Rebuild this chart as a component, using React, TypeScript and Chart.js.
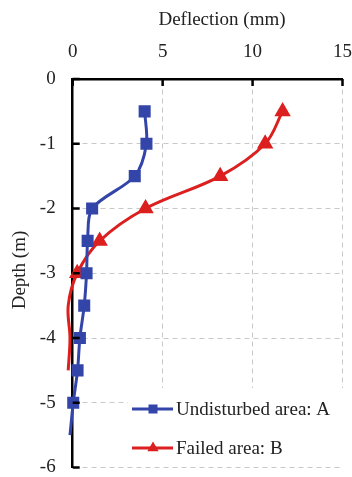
import React, { useEffect, useRef } from "react";
import { Chart, registerables } from "chart.js";

Chart.register(...registerables);

const depthA = [-0.5, -1, -1.5, -2, -2.5, -3, -3.5, -4, -4.5, -5, -5.5];
const deflA = [4.0, 4.1, 3.45, 1.08, 0.83, 0.77, 0.64, 0.4, 0.27, 0.03, -0.15];
const depthB = [-0.5, -1, -1.5, -2, -2.5, -3, -3.5, -4, -4.5];
const deflB = [11.67, 10.7, 8.2, 4.05, 1.5, 0.25, -0.25, -0.15, -0.25];
const xTicks = [0, 5, 10, 15];
const yTicks = [0, -1, -2, -3, -4, -5, -6];
const labelA = "Undisturbed area: A";
const labelB = "Failed area: B";
const xTitle = "Deflection (mm)";
const yTitle = "Depth (m)";

const BLUE = "#3345a8";
const RED = "#dc1f1f";
const FONT = "'Liberation Serif', 'Times New Roman', serif";
const TXT = "#222";

const overlay = {
  id: "overlay",
  afterDraw(chart: any) {
    const { ctx, chartArea, scales } = chart;
    const xs = scales.x;
    const ys = scales.y;
    ctx.save();
    // inward ticks
    ctx.strokeStyle = "#000";
    ctx.lineWidth = 2.5;
    ctx.beginPath();
    xTicks.forEach((v) => {
      const px = xs.getPixelForValue(v);
      ctx.moveTo(px, chartArea.top);
      ctx.lineTo(px, chartArea.top + 7);
    });
    yTicks.forEach((v) => {
      const py = ys.getPixelForValue(v);
      ctx.moveTo(chartArea.left, py);
      ctx.lineTo(chartArea.left + 7, py);
    });
    ctx.stroke();

    // titles
    ctx.fillStyle = TXT;
    ctx.font = `19px ${FONT}`;
    ctx.textAlign = "center";
    ctx.textBaseline = "middle";
    ctx.fillText(xTitle, 222, 20);
    ctx.save();
    ctx.translate(20, 270);
    ctx.rotate(-Math.PI / 2);
    ctx.fillText(yTitle, 0, 0);
    ctx.restore();

    // legend
    ctx.fillStyle = "#fff";
    ctx.fillRect(128, 388, 222, 76);
    const items = [
      { label: labelA, color: BLUE, style: "rect", y: 409 },
      { label: labelB, color: RED, style: "triangle", y: 448 },
    ];
    items.forEach((it) => {
      ctx.strokeStyle = it.color;
      ctx.lineWidth = 3;
      ctx.beginPath();
      ctx.moveTo(132, it.y);
      ctx.lineTo(173, it.y);
      ctx.stroke();
      ctx.fillStyle = it.color;
      if (it.style === "rect") {
        ctx.fillRect(153 - 4.5, it.y - 4.5, 9, 9);
      } else {
        const r = 6.5;
        ctx.beginPath();
        ctx.moveTo(153, it.y - r);
        ctx.lineTo(153 + r * 0.866, it.y + r * 0.5);
        ctx.lineTo(153 - r * 0.866, it.y + r * 0.5);
        ctx.closePath();
        ctx.fill();
      }
      ctx.fillStyle = TXT;
      ctx.textAlign = "left";
      ctx.font = `19px ${FONT}`;
      ctx.fillText(it.label, 176, it.y + 1);
    });
    ctx.restore();
  },
};

export default function App() {
  const ref = useRef<HTMLCanvasElement | null>(null);
  useEffect(() => {
    if (!ref.current) return;
    const chart = new Chart(ref.current, {
      type: "scatter",
      data: {
        datasets: [
          {
            label: labelA,
            data: depthA.map((d, i) => ({ x: deflA[i], y: d })),
            showLine: true,
            borderColor: BLUE,
            backgroundColor: BLUE,
            borderWidth: 3,
            pointStyle: "rect",
            pointRadius: depthA.map((d) => (d < -5.2 ? 0 : 6.4)),
            pointHoverRadius: 0,
            tension: 0.3,
            clip: 12,
          },
          {
            label: labelB,
            data: depthB.map((d, i) => ({ x: deflB[i], y: d })),
            showLine: true,
            borderColor: RED,
            backgroundColor: RED,
            borderWidth: 3,
            pointStyle: "triangle",
            pointRadius: depthB.map((d) => (d < -3.2 ? 0 : 6.5)),
            pointHoverRadius: 0,
            tension: 0.35,
            clip: 12,
          },
        ],
      },
      options: {
        animation: false,
        responsive: true,
        maintainAspectRatio: false,
        layout: { padding: { left: 0, top: 0, right: 9, bottom: 8 } },
        plugins: { legend: { display: false }, tooltip: { enabled: false } },
        scales: {
          x: {
            type: "linear",
            position: "top",
            min: 0,
            max: 15,
            afterFit: (s: any) => {
              s.height = 79;
              s.paddingLeft = 0;
              s.paddingRight = 0;
            },
            afterBuildTicks: (s: any) => {
              s.ticks = xTicks.map((v) => ({ value: v }));
            },
            ticks: {
              font: { family: FONT, size: 19 },
              color: TXT,
              padding: 16,
            },
            grid: {
              color: "#c8c8c8",
              lineWidth: 1,
              drawTicks: false,
            },
            border: { display: true, color: "#000", width: 2.5, dash: [5, 4] },
          },
          y: {
            type: "linear",
            min: -6,
            max: 0,
            afterFit: (s: any) => {
              s.width = 72.7;
              s.paddingTop = 0;
              s.paddingBottom = 0;
            },
            afterBuildTicks: (s: any) => {
              s.ticks = yTicks.map((v) => ({ value: v }));
            },
            ticks: {
              font: { family: FONT, size: 19 },
              color: TXT,
              padding: 17,
            },
            grid: {
              color: "#c8c8c8",
              lineWidth: 1,
              drawTicks: false,
            },
            border: { display: true, color: "#000", width: 2.5, dash: [5, 4] },
          },
        },
      },
      plugins: [overlay],
    } as any);
    return () => chart.destroy();
  }, []);
  return (
    <div style={{ position: "fixed", left: 0, top: 0, width: 352, height: 477, background: "#fff" }}>
      <canvas ref={ref} />
    </div>
  );
}
